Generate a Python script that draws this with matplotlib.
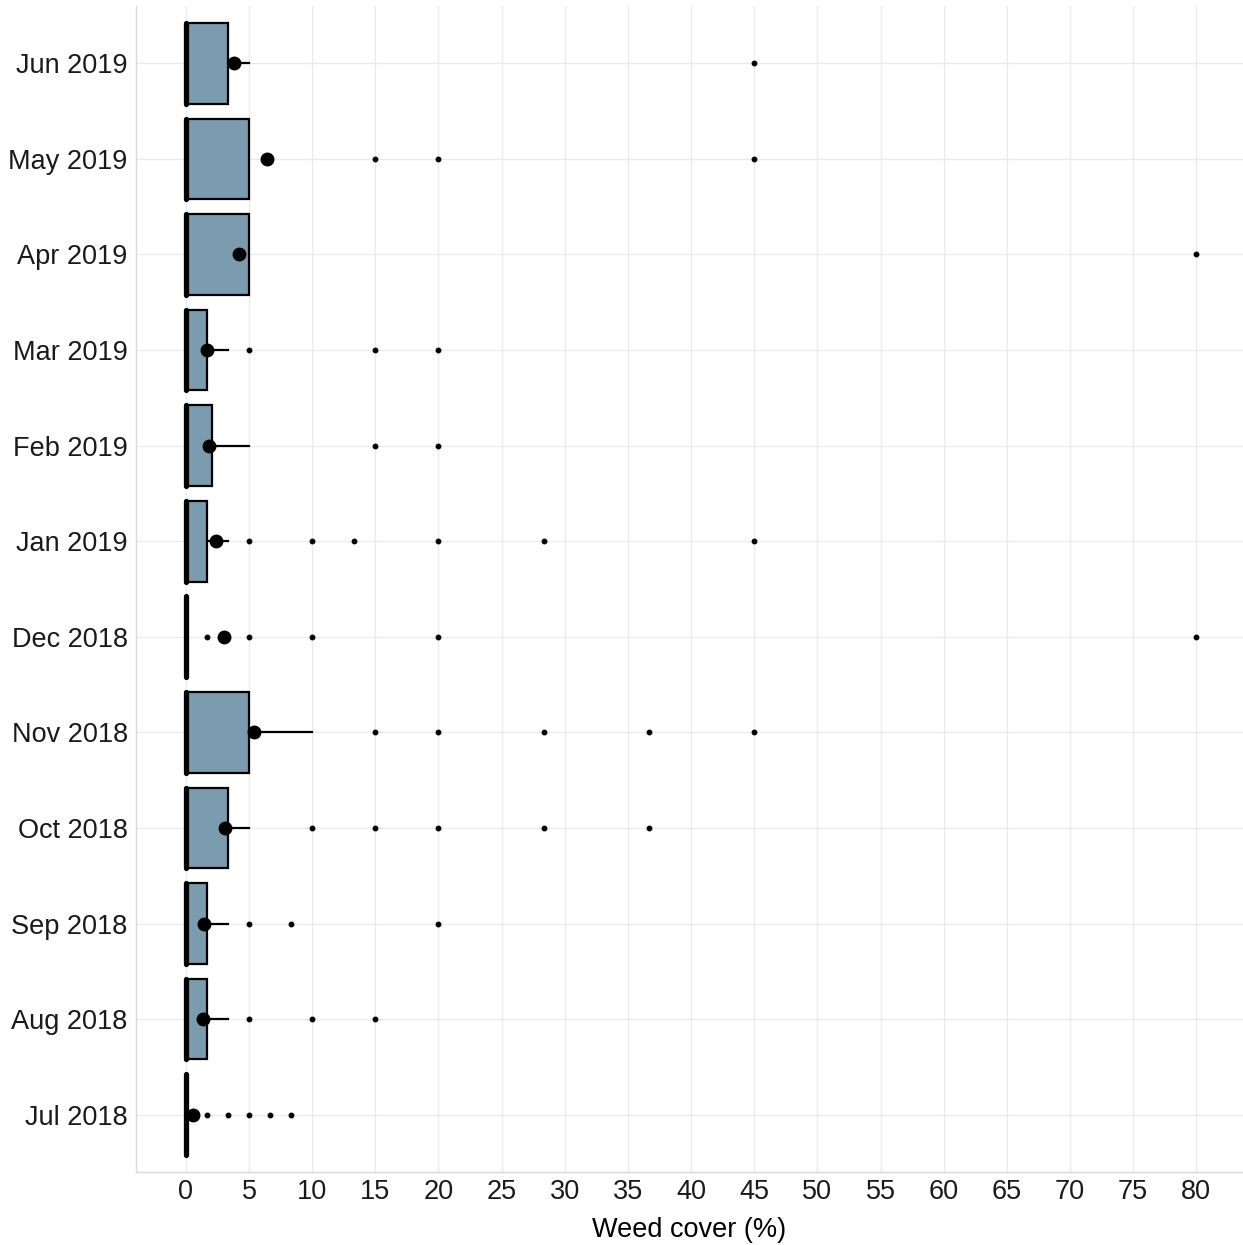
import matplotlib
matplotlib.use("Agg")
import matplotlib.pyplot as plt

plt.rcParams["font.family"] = ["Liberation Sans", "DejaVu Sans"]

# monthly survey dates, bottom to top
months = ["Jul 2018", "Aug 2018", "Sep 2018", "Oct 2018", "Nov 2018", "Dec 2018",
          "Jan 2019", "Feb 2019", "Mar 2019", "Apr 2019", "May 2019", "Jun 2019"]

q1 = [0, 0, 0, 0, 0, 0, 0, 0, 0, 0, 0, 0]
median = [0, 0, 0, 0, 0, 0, 0, 0, 0, 0, 0, 0]
q3 = [0, 1.67, 1.67, 3.33, 5, 0, 1.67, 2.08, 1.67, 5, 5, 3.33]
whisker_hi = [0, 3.33, 3.33, 5, 10, 0, 3.33, 5, 3.33, 5, 5, 5]
means = [0.6, 1.35, 1.4, 3.1, 5.4, 3.05, 2.4, 1.85, 1.7, 4.2, 6.4, 3.8]
outliers = [
    [1.67, 3.33, 5, 6.67, 8.33],
    [5, 10, 15],
    [5, 8.33, 20],
    [10, 15, 20, 28.33, 36.67],
    [15, 20, 28.33, 36.67, 45],
    [1.67, 5, 10, 20, 80],
    [5, 10, 13.33, 20, 28.33, 45],
    [15, 20],
    [5, 15, 20],
    [80],
    [15, 20, 45],
    [45],
]

stats = []
for i, label in enumerate(months):
    stats.append({
        "label": label,
        "q1": q1[i],
        "med": median[i],
        "q3": q3[i],
        "whislo": q1[i],
        "whishi": whisker_hi[i],
        "fliers": outliers[i],
    })

W, H = 1243, 1245
fig = plt.figure(figsize=(W / 100, H / 100), dpi=100)
ax = fig.add_axes([136 / W, 1 - 1172 / H, (W - 136) / W, (1172 - 6) / H])

positions = list(range(len(months)))
ax.bxp(
    stats,
    positions=positions,
    vert=False,
    widths=0.845,
    patch_artist=True,
    showcaps=False,
    boxprops=dict(facecolor="#7a9cae", edgecolor="black", linewidth=1.6),
    medianprops=dict(color="black", linewidth=3.8, solid_capstyle="round"),
    whiskerprops=dict(color="black", linewidth=1.6),
    flierprops=dict(marker="o", markerfacecolor="black", markeredgecolor="black",
                    markersize=3.2, linestyle="none"),
    zorder=3,
)
ax.plot(means, positions, "o", color="black", markersize=9, zorder=4)

ax.set_xlim(-3.95, 83.7)
ax.set_ylim(-0.6, len(months) - 0.4)
ax.set_xticks(range(0, 85, 5))
ax.set_yticks(positions)
ax.set_yticklabels(months)
ax.set_xlabel("Weed cover (%)", fontsize=19.5, labelpad=9)

ax.grid(True, color="#ebebeb", linewidth=1.0, zorder=0)
ax.set_axisbelow(True)
for side in ["top", "right"]:
    ax.spines[side].set_visible(False)
for side in ["left", "bottom"]:
    ax.spines[side].set_color("#d9d9d9")
    ax.spines[side].set_linewidth(1.0)
ax.tick_params(axis="both", length=0, labelsize=19.5, labelcolor="#1a1a1a")
ax.tick_params(axis="x", pad=5)
ax.tick_params(axis="y", pad=6)

fig.savefig("out.png", dpi=100)
